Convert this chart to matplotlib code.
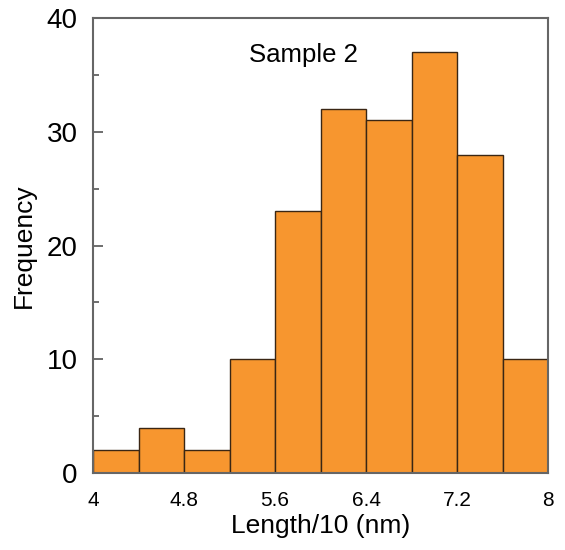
import matplotlib
matplotlib.use("Agg")
import matplotlib.pyplot as plt
from matplotlib.ticker import MultipleLocator

plt.rcParams['font.family'] = ['Liberation Sans', 'DejaVu Sans']

# bin edges and counts
bin_left = [4.0, 4.4, 4.8, 5.2, 5.6, 6.0, 6.4, 6.8, 7.2, 7.6]
counts = [2, 4, 2, 10, 23, 32, 31, 37, 28, 10]
bin_width = 0.4
xticks = [4, 4.8, 5.6, 6.4, 7.2, 8]
xtick_labels = ["4", "4.8", "5.6", "6.4", "7.2", "8"]

fig = plt.figure(figsize=(5.65, 5.5), dpi=100)
ax = fig.add_axes([0.1646, 0.140, 0.8054, 0.827])

ax.bar(bin_left, counts, width=bin_width, align='edge',
       color='#F7962F', edgecolor='#3a2614', linewidth=1.0, zorder=2)

ax.set_xlim(4, 8)
ax.set_ylim(0, 40)
ax.set_xticks(xticks)
ax.set_xticklabels(xtick_labels, fontsize=15)
ax.yaxis.set_major_locator(MultipleLocator(10))
ax.yaxis.set_minor_locator(MultipleLocator(5))
ax.tick_params(axis='y', which='major', direction='in', length=7, width=1.2,
               color='#555555', labelsize=20, pad=11)
ax.tick_params(axis='y', which='minor', direction='in', length=4, width=1.2,
               color='#555555')
ax.tick_params(axis='x', which='both', length=0, pad=13)

for s in ax.spines.values():
    s.set_color('#666666')
    s.set_linewidth(1.5)

ax.set_xlabel("Length/10 (nm)", fontsize=19, labelpad=3)
ax.set_ylabel("Frequency", fontsize=19, labelpad=8)

ax.text(5.85, 36.8, "Sample 2", fontsize=18.5, ha='center', va='center')

fig.savefig("out.png", dpi=100)
